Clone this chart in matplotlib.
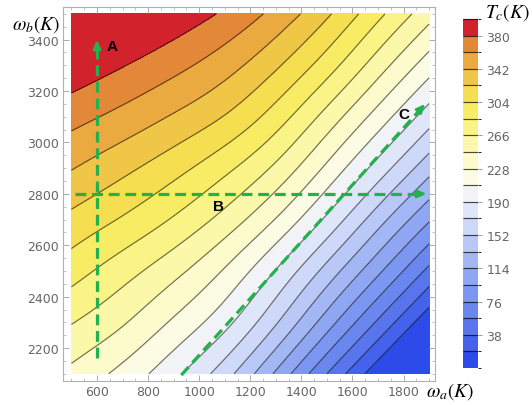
import numpy as np
import matplotlib
matplotlib.use("Agg")
import matplotlib.pyplot as plt
from matplotlib.colors import ListedColormap, BoundaryNorm

# ---- data ----
omega_a = np.array([500, 700, 900, 1100, 1300, 1500, 1700, 1900])      # K
omega_b = np.array([2100, 2300, 2500, 2700, 2900, 3100, 3300, 3500])   # K
# Tc (K) on the grid, rows = omega_b, cols = omega_a
tc_grid = np.array([
    [242, 222, 195, 160, 111,  57,   6, -44],
    [267, 249, 225, 196, 154, 104,  54,   5],
    [293, 274, 253, 226, 189, 145,  99,  52],
    [318, 302, 283, 259, 227, 186, 141,  97],
    [343, 328, 311, 290, 262, 224, 182, 140],
    [368, 355, 340, 322, 295, 259, 220, 180],
    [394, 381, 367, 350, 326, 294, 256, 218],
    [419, 407, 393, 377, 355, 326, 290, 254],
])
levels = np.arange(0, 400, 19)           # 0,19,...,399
cbar_ticks = [38, 76, 114, 152, 190, 228, 266, 304, 342, 380]
xticks = [600, 800, 1000, 1200, 1400, 1600, 1800]
yticks = [2200, 2400, 2600, 2800, 3000, 3200, 3400]
band_colors = [
    (45, 75, 232), (68, 98, 235), (88, 117, 237), (106, 135, 239), (124, 151, 241),
    (143, 167, 243), (163, 183, 245), (185, 200, 247), (206, 216, 248), (224, 230, 249),
    (241, 243, 246), (252, 251, 228), (253, 250, 204), (252, 248, 170), (250, 244, 135),
    (248, 236, 100), (245, 222, 80), (240, 198, 70), (234, 170, 64), (227, 136, 56),
    (210, 35, 45),
]
# annotation arrows (data coords)
arrow_A = [(600, 2160), (600, 3400)]
arrow_B = [(515, 2800), (1890, 2800)]
arrow_C = [(930, 2095), (1885, 3150)]
labels_pos = {"A": (660, 3375), "B": (1075, 2752), "C": (1800, 3112)}


def spline_weights(xk, xq):
    """Natural cubic spline weight matrix W so that S(xq) = W @ yk."""
    xk = np.asarray(xk, float); n = len(xk); h = np.diff(xk)
    A = np.zeros((n, n)); R = np.zeros((n, n))
    A[0, 0] = A[-1, -1] = 1.0
    for i in range(1, n - 1):
        A[i, i - 1] = h[i - 1]; A[i, i] = 2 * (h[i - 1] + h[i]); A[i, i + 1] = h[i]
        R[i, i - 1] = 6 / h[i - 1]; R[i, i] = -6 / h[i - 1] - 6 / h[i]; R[i, i + 1] = 6 / h[i]
    Mmat = np.linalg.solve(A, R)          # second derivatives = Mmat @ y
    idx = np.clip(np.searchsorted(xk, xq) - 1, 0, n - 2)
    W = np.zeros((len(xq), n))
    for q, (x, i) in enumerate(zip(xq, idx)):
        hi = h[i]; a = (xk[i + 1] - x) / hi; b = (x - xk[i]) / hi
        W[q, i] += a; W[q, i + 1] += b
        W[q] += ((a**3 - a) * Mmat[i] + (b**3 - b) * Mmat[i + 1]) * hi**2 / 6
    return W


# ---- figure ----
fig = plt.figure(figsize=(5.32, 4.06), dpi=100)
ax = fig.add_axes([63/532, 1-382/406, 372/532, 374/406])
cax = fig.add_axes([463/532, 1-369/406, 15/532, 349/406])

cmap = ListedColormap(np.array(band_colors)/255.0)
norm = BoundaryNorm(levels, cmap.N)

xf = np.linspace(omega_a[0], omega_a[-1], 400)
yf = np.linspace(omega_b[0], omega_b[-1], 400)
Wx = spline_weights(omega_a, xf)
Wy = spline_weights(omega_b, yf)
ZF = np.clip(Wy @ tc_grid.astype(float) @ Wx.T, 1, 398)
XF, YF = np.meshgrid(xf, yf)

cf = ax.contourf(XF, YF, ZF, levels=levels, cmap=cmap, norm=norm)
cl = ax.contour(XF, YF, ZF, levels=levels[1:], colors="k", alpha=0.55, linewidths=0.85)

ax.set_xlim(467, 1923)
ax.set_ylim(2072, 3527)
ax.set_xticks(xticks)
ax.set_yticks(yticks)
ax.set_xticks(np.arange(500, 1901, 50), minor=True)
ax.set_yticks(np.arange(2100, 3501, 50), minor=True)
tick_font = {"family": ["Liberation Sans Narrow", "DejaVu Sans"], "size": 9}
ax.set_xticklabels([str(v) for v in xticks], fontdict=tick_font, color="#666666")
ax.set_yticklabels([str(v) for v in yticks], fontdict=tick_font, color="#666666")
ax.tick_params(which="both", direction="in", color="#aaaaaa", top=True, right=True)
ax.tick_params(which="major", length=4, width=0.7, pad=3)
ax.tick_params(which="minor", length=2, width=0.5)
ax.tick_params(top=True, right=True, labeltop=False, labelright=False)
for s in ax.spines.values():
    s.set_color("#b0b0b0")
    s.set_linewidth(0.8)

green = "#22b14c"
for (p0, p1) in [arrow_A, arrow_B, arrow_C]:
    p0 = np.array(p0, float); p1 = np.array(p1, float)
    d = (p1 - p0) / np.linalg.norm(p1 - p0)
    stop = p1 - d * 30
    ax.plot([p0[0], stop[0]], [p0[1], stop[1]], color=green, lw=2.3,
            ls=(0, (3.4, 1.8)), solid_capstyle="butt", zorder=5)
    ax.annotate("", xy=p1, xytext=stop,
                arrowprops=dict(arrowstyle="-|>,head_length=0.5,head_width=0.22",
                                color=green, lw=2.0, shrinkA=0, shrinkB=0), zorder=6)
for k, (x, y) in labels_pos.items():
    ax.text(x, y, k, fontsize=11, fontweight="bold", family="Liberation Sans",
            ha="center", va="center", zorder=7)

plt.rcParams["mathtext.fontset"] = "stix"
fig.text(36/532, 1-25/406, r"$\omega_b(K)$", fontsize=14, ha="center", va="center")
fig.text(450/532, 1-392/406, r"$\omega_a(K)$", fontsize=14, ha="center", va="center")
fig.text(507/532, 1-13/406, r"$T_c(K)$", fontsize=14, ha="center", va="center")

cb = fig.colorbar(cf, cax=cax, ticks=cbar_ticks)
cb.add_lines(cl)
cb.outline.set_visible(False)
cb.ax.tick_params(length=3, color="#888888", width=0.6, pad=3)
cb.ax.set_yticklabels([str(v) for v in cbar_ticks], fontdict=tick_font, color="#666666")
for ln in cb.lines:
    ln.set_alpha(0.7)

fig.savefig("out.png", dpi=100)
